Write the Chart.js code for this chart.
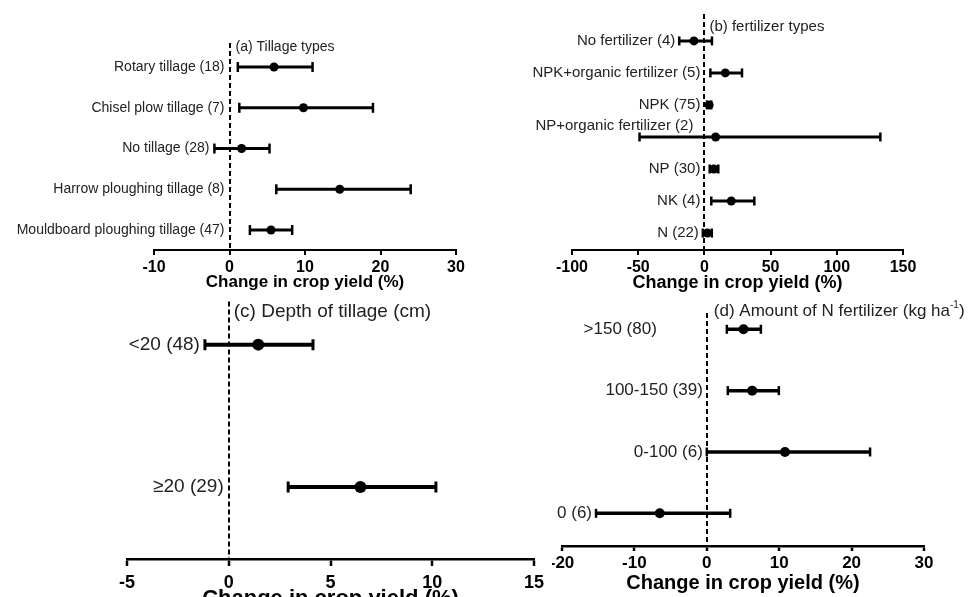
<!DOCTYPE html>
<html>
<head>
<meta charset="utf-8">
<script src="https://cdn.jsdelivr.net/npm/chart.js@4/dist/chart.umd.min.js"></script>
<style>
html,body{margin:0;padding:0;background:#fff;width:979px;height:597px;overflow:hidden;position:relative;}
canvas{position:absolute;display:block;}
</style>
</head>
<body>
<canvas id="ca" width="500" height="293" style="left:0;top:0"></canvas>
<canvas id="cb" width="479" height="294" style="left:500px;top:0"></canvas>
<canvas id="cc" width="552" height="319" style="left:0;top:293px"></canvas>
<canvas id="cd" width="427" height="302" style="left:552px;top:293px"></canvas>
<script>
// ---------- data (rows listed bottom to top) ----------
// (a) Tillage types
const tillageLabels = ['Mouldboard ploughing tillage (47)', 'Harrow ploughing tillage (8)', 'No tillage (28)', 'Chisel plow tillage (7)', 'Rotary tillage (18)'];
const tillageMean = [5.5, 14.6, 1.6, 9.8, 5.9];
const tillageLow  = [2.7, 6.2, -2.0, 1.3, 1.1];
const tillageHigh = [8.3, 24.0, 5.3, 19.0, 11.0];
const tillageTicks = [-10, 0, 10, 20, 30];

// (b) fertilizer types
const fertLabels = ['N (22)', 'NK (4)', 'NP (30)', 'NP+organic fertilizer (2)', 'NPK (75)', 'NPK+organic fertilizer (5)', 'No fertilizer (4)'];
const fertMean = [2.2, 20.3, 7.2, 8.5, 3.6, 15.8, -7.9];
const fertLow  = [-1.2, 5.2, 4.0, -49, 2.0, 4.5, -19];
const fertHigh = [5.6, 37.7, 10.5, 132.9, 5.2, 28.4, 5.7];
const fertTicks = [-100, -50, 0, 50, 100, 150];

// (c) Depth of tillage (cm)
const depthLabels = ['≥20 (29)', '<20 (48)'];
const depthMean = [6.47, 1.45];
const depthLow  = [2.92, -1.17];
const depthHigh = [10.18, 4.14];
const depthTicks = [-5, 0, 5, 10, 15];

// (d) Amount of N fertilizer
const nLabels = ['0 (6)', '0-100 (6)', '100-150 (39)', '>150 (80)'];
const nMean = [-6.5, 10.8, 6.27, 5.07];
const nLow  = [-15.3, 0.0, 2.9, 2.77];
const nHigh = [3.23, 22.55, 9.95, 7.47];
const nTicks = [-20, -10, 0, 10, 20, 30];

const axisTitle = 'Change in crop yield (%)';

// ---------- drawing ----------
const FONT = '"Liberation Sans", Arial, Helvetica, sans-serif';
// label placement exceptions (pixel offsets from the zero line)
const labelPlacement = {
  'NP+organic fertilizer (2)': {fromZero: -11, dy: -11},
  '>150 (80)': {fromZero: -50, dy: 0}
};

function errorBarChart(id, d, s) {
  const idx = d.labels.map((_, i) => i);
  const datasets = [];
  idx.forEach(i => datasets.push({
    type: 'line',
    data: [{x: d.low[i], y: i}, {x: d.high[i], y: i}],
    borderColor: '#000', borderWidth: s.barW, pointRadius: 0, order: 3, borderCapStyle: 'butt'
  }));
  datasets.push({
    type: 'scatter',
    data: idx.flatMap(i => [{x: d.low[i], y: i}, {x: d.high[i], y: i}]),
    pointStyle: 'line', pointRotation: 90, pointRadius: s.capR,
    pointBorderWidth: s.capW, pointBorderColor: '#000', order: 2
  });
  datasets.push({
    type: 'scatter',
    data: idx.map(i => ({x: d.mean[i], y: i})),
    pointStyle: 'circle', pointRadius: s.dotR, pointBackgroundColor: '#000',
    pointBorderWidth: 0, order: 1
  });

  const overlay = {
    id: 'overlay',
    afterDraw(chart) {
      const ctx = chart.ctx;
      const xs = chart.scales.x, ys = chart.scales.y;
      const zero = xs.getPixelForValue(0);
      ctx.save();
      // category labels
      ctx.fillStyle = '#222';
      ctx.font = s.labelSize + 'px ' + FONT;
      ctx.textAlign = 'right';
      ctx.textBaseline = 'middle';
      d.labels.forEach((lab, i) => {
        const y = ys.getPixelForValue(i);
        let x = Math.min(zero, xs.getPixelForValue(d.low[i])) - s.gap;
        let dy = 0;
        if (labelPlacement[lab]) { x = zero + labelPlacement[lab].fromZero; dy = labelPlacement[lab].dy; }
        ctx.fillText(lab, x, y + dy);
      });
      // panel title
      ctx.textAlign = 'left';
      ctx.fillStyle = '#222';
      let x = zero + s.titleDx;
      const ty = s.titleY;
      s.title.forEach(seg => {
        const size = seg.sup ? Math.round(s.titleSize * 0.6) : s.titleSize;
        ctx.font = size + 'px ' + FONT;
        ctx.fillText(seg.t, x, ty - (seg.sup ? s.titleSize * 0.35 : 0));
        x += ctx.measureText(seg.t).width;
      });
      ctx.restore();
    }
  };

  return new Chart(document.getElementById(id), {
    type: 'scatter',
    data: {datasets},
    plugins: [overlay],
    options: {
      responsive: false, animation: false, events: [],
      layout: {padding: s.pad},
      plugins: {legend: {display: false}, tooltip: {enabled: false}, title: {display: false}},
      scales: {
        x: {
          type: 'linear', position: 'bottom',
          min: d.ticks[0], max: d.ticks[d.ticks.length - 1],
          afterBuildTicks: sc => { sc.ticks = d.ticks.map(v => ({value: v})); },
          afterFit: sc => { sc.height = s.axisH; sc.paddingLeft = 0; sc.paddingRight = 0; },
          ticks: {color: '#000', padding: s.tickPad, maxRotation: 0, autoSkip: false,
                  font: {family: FONT, size: s.tickSize, weight: 'bold'}},
          grid: {
            drawOnChartArea: true, drawTicks: true, tickLength: s.tickLen,
            color: c => (c.tick && c.tick.value === 0) ? '#000' : 'rgba(0,0,0,0)',
            lineWidth: 2, tickColor: '#000', tickWidth: s.axisW, tickBorderDash: []
          },
          border: {display: true, color: '#000', width: s.axisW, dash: [5, 3]},
          title: {display: true, text: axisTitle, color: '#000', padding: {top: 0, bottom: 0},
                  font: {family: FONT, size: s.axisTitleSize, weight: 'bold'}}
        },
        y: {
          type: 'linear', display: false,
          min: s.yMin, max: s.yMax
        }
      }
    }
  });
}

errorBarChart('ca',
  {labels: tillageLabels, mean: tillageMean, low: tillageLow, high: tillageHigh, ticks: tillageTicks},
  {pad: {left: 154, right: 44, top: 43, bottom: 0}, axisH: 43, yMin: -0.49, yMax: 4.59,
   barW: 3, capR: 5, capW: 2.5, dotR: 4.5, labelSize: 14, gap: 5,
   title: [{t: '(a) Tillage types'}], titleSize: 14, titleDx: 6, titleY: 47,
   tickSize: 16, tickPad: 3, tickLen: 5, axisW: 2, axisTitleSize: 17});

errorBarChart('cb',
  {labels: fertLabels, mean: fertMean, low: fertLow, high: fertHigh, ticks: fertTicks},
  {pad: {left: 72, right: 76, top: 14, bottom: 0}, axisH: 44, yMin: -0.53, yMax: 6.84,
   barW: 3, capR: 4.5, capW: 2.5, dotR: 4.5, labelSize: 15, gap: 4,
   title: [{t: '(b) fertilizer types'}], titleSize: 15, titleDx: 5, titleY: 27,
   tickSize: 16, tickPad: 3, tickLen: 5, axisW: 2, axisTitleSize: 18});

errorBarChart('cc',
  {labels: depthLabels, mean: depthMean, low: depthLow, high: depthHigh, ticks: depthTicks},
  {pad: {left: 127, right: 18, top: 4, bottom: 0}, axisH: 53, yMin: -0.506, yMax: 1.303,
   barW: 4, capR: 5.5, capW: 3, dotR: 6, labelSize: 19, gap: 5,
   title: [{t: '(c) Depth of tillage (cm)'}], titleSize: 19, titleDx: 5, titleY: 19,
   tickSize: 18, tickPad: 6, tickLen: 7, axisW: 2.5, axisTitleSize: 22});

errorBarChart('cd',
  {labels: nLabels, mean: nMean, low: nLow, high: nHigh, ticks: nTicks},
  {pad: {left: 10, right: 55, top: 20, bottom: 0}, axisH: 49, yMin: -0.533, yMax: 3.266,
   barW: 3.5, capR: 4.5, capW: 2.5, dotR: 5, labelSize: 17, gap: 4,
   title: [{t: '(d) Amount of N fertilizer (kg ha'}, {t: '-1', sup: true}, {t: ')'}],
   titleSize: 17, titleDx: 7, titleY: 18,
   tickSize: 17, tickPad: 2, tickLen: 5, axisW: 2.5, axisTitleSize: 20});
</script>
</body>
</html>
